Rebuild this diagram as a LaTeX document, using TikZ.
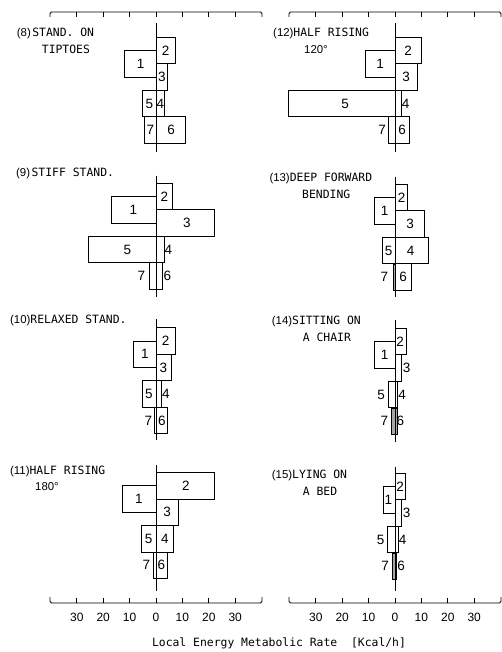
\documentclass[tikz,border=0pt]{standalone}
\usepackage{fontspec}
\newfontfamily\monofont{DejaVu Sans Mono}
\newfontfamily\numfont{Liberation Sans}
% bars: #1 b1 (left), #2 b2, #3 b3, #4 b4, #5 b5 (left), #6 b6, #7 b7 (left)
\newcommand{\mybars}[7]{%
  \draw[bar] (0,0) rectangle (#2,26.5);
  \draw[bar] (-#1,13.25) rectangle (0,39.75);
  \draw[bar] (0,26.5) rectangle (#3,53);
  \draw[bar] (-#5,53) rectangle (0,79.5);
  \draw[bar] (0,53) rectangle (#4,79.5);
  \draw[lowseven] (-#7,79.5) rectangle (0,106);
  \draw[lowsix] (0,79.5) rectangle (#6,106);
}
\newcommand{\topaxis}[1]{%
  \draw[axis] (#1-106,17) -- (#1-106,12) -- (#1+106,12) -- (#1+106,17);
  \foreach \k in {-3,...,3} \draw[axis] (#1+\k*26.4,12) -- (#1+\k*26.4,17);
}
\newcommand{\botaxis}[1]{%
  \draw[axis] (#1-106,597) -- (#1-106,603) -- (#1+106,603) -- (#1+106,597);
  \foreach \k in {-3,...,3} \draw[axis] (#1+\k*26.4,603) -- (#1+\k*26.4,597.5);
}
\begin{document}
\begin{tikzpicture}[x=1pt,y=-1pt,
  bar/.style={draw=black, line width=0.8pt},
  shd/.style={draw=black, fill=black!35, line width=0.6pt},
  lowseven/.style={bar},
  lowsix/.style={bar},
  zline/.style={draw=black, line width=0.8pt},
  axis/.style={draw=black, line width=0.9pt, rounded corners=1.5pt},
  num/.style={font=\numfont\fontsize{13.5}{13.5}\selectfont, inner sep=0pt},
  ttl/.style={font=\monofont\fontsize{11.4}{11.4}\selectfont, anchor=west, inner sep=0pt},
  tlab/.style={font=\numfont\fontsize{12}{12}\selectfont, inner sep=0pt}]
\useasboundingbox (0,0) rectangle (502,652);
\fill[white] (0,0) rectangle (502,652);

% axes
\topaxis{156}
\topaxis{395}
\botaxis{156}
\botaxis{395}

% ---------- panel 8 ----------
\begin{scope}[shift={(156.5,37.3)}]
  \mybars{31.7}{18.5}{11}{7.6}{14.2}{29.3}{12.4}
  \draw[zline] (0,-14.3) -- (0,115);
  \node[num] (p8a) at (-15.8,26.5) {1};
  \node[num] (p8b) at (9.2,13.25) {2};
  \node[num] (p8c) at (5.5,39.75) {3};
  \node[num] (p8d) at (3.8,66.25) {4};
  \node[num] (p8e) at (-7.1,66.25) {5};
  \node[num] (p8f) at (14.6,92.75) {6};
  \node[num] (p8g) at (-6.2,92.75) {7};
\end{scope}
\node[ttl] (t8a) at (16.7,33.3) {{\numfont(8)}\kern1.5pt STAND. ON};
\node[ttl] (t8b) at (41.7,49.3) {TIPTOES};

% ---------- panel 9 ----------
\begin{scope}[shift={(156,183.3)}]
  \mybars{45}{16.7}{58}{8.3}{67.7}{6.7}{6.7}
  \draw[zline] (0,-7.6) -- (0,113.4);
  \node[num] (p9a) at (-22.5,26.5) {1};
  \node[num] (p9b) at (8.5,13.25) {2};
  \node[num] (p9c) at (31,39.75) {3};
  \node[num] (p9d) at (12.5,66.25) {4};
  \node[num] (p9e) at (-28.5,66.25) {5};
  \node[num] (p9f) at (11.5,92.75) {6};
  \node[num] (p9g) at (-14.5,92.75) {7};
\end{scope}
\node[ttl] (t9a) at (16,173.3) {{\numfont(9)}\kern1.5pt STIFF STAND.};

% ---------- panel 10 ----------
\begin{scope}[shift={(156,327.7)}]
  \mybars{22.7}{19}{15}{5.7}{13.7}{11.7}{2}
  \draw[zline] (0,-8.4) -- (0,112.3);
  \node[num] (p10a) at (-11.2,26.5) {1};
  \node[num] (p10b) at (9.6,13.25) {2};
  \node[num] (p10c) at (7.4,39.75) {3};
  \node[num] (p10d) at (10,66.25) {4};
  \node[num] (p10e) at (-7,66.25) {5};
  \node[num] (p10f) at (5.8,92.75) {6};
  \node[num] (p10g) at (-7.7,92.75) {7};
\end{scope}
\node[ttl] (t10a) at (10,320) {{\numfont(10)}RELAXED STAND.};

% ---------- panel 11 ----------
\begin{scope}[shift={(156,472.5)}]
  \mybars{34}{58}{22.3}{17.5}{14.5}{11}{2.5}
  \draw[zline] (0,-7.5) -- (0,118);
  \node[num] (p11a) at (-17,26.5) {1};
  \node[num] (p11b) at (30,13.25) {2};
  \node[num] (p11c) at (11.2,39.75) {3};
  \node[num] (p11d) at (8.8,66.25) {4};
  \node[num] (p11e) at (-7.3,66.25) {5};
  \node[num] (p11f) at (5.5,92.75) {6};
  \node[num] (p11g) at (-9.5,92.75) {7};
\end{scope}
\node[ttl] (t11a) at (10,471.5) {{\numfont(11)}HALF RISING};
\node[ttl] (t11b) at (35,487) {{\numfont 180°}};

% ---------- panel 12 ----------
\begin{scope}[shift={(395,37.3)}]
  \mybars{29.7}{26}{22}{6.7}{107}{14.3}{6.7}
  \draw[zline] (0,-14.3) -- (0,115);
  \node[num] (p12a) at (-15,26.5) {1};
  \node[num] (p12b) at (13,13.25) {2};
  \node[num] (p12c) at (11,39.75) {3};
  \node[num] (p12d) at (10.5,66.25) {4};
  \node[num] (p12e) at (-50,66.25) {5};
  \node[num] (p12f) at (7,92.75) {6};
  \node[num] (p12g) at (-13,92.75) {7};
\end{scope}
\node[ttl] (t12a) at (273,33.3) {{\numfont(12)}HALF RISING};
\node[ttl] (t12b) at (304,50) {{\numfont 120°}};

% ---------- panel 13 ----------
\tikzset{lowseven/.style={shd}}
\begin{scope}[shift={(395,184.3)}]
  \mybars{20.7}{12.7}{29.3}{33.3}{12.3}{16}{1.7}
  \draw[zline] (0,-7.6) -- (0,112.4);
  \node[num] (p13a) at (-10.5,26.5) {1};
  \node[num] (p13b) at (6.5,13.25) {2};
  \node[num] (p13c) at (15,39.75) {3};
  \node[num] (p13d) at (15.5,66.25) {4};
  \node[num] (p13e) at (-6.5,66.25) {5};
  \node[num] (p13f) at (8,92.75) {6};
  \node[num] (p13g) at (-10.7,92.75) {7};
\end{scope}
\node[ttl] (t13a) at (269.3,178) {{\numfont(13)}DEEP FORWARD};
\node[ttl] (t13b) at (302,194) {BENDING};

% ---------- panel 14 ----------
\tikzset{lowsix/.style={shd}}
\begin{scope}[shift={(395,328.3)}]
  \mybars{20.7}{11}{6}{2.7}{6.7}{2.7}{3.3}
  \draw[zline] (0,-8.3) -- (0,113.4);
  \node[num] (p14a) at (-10.5,26.5) {1};
  \node[num] (p14b) at (5.2,13.25) {2};
  \node[num] (p14c) at (11.7,39.75) {3};
  \node[num] (p14d) at (7.2,66.25) {4};
  \node[num] (p14e) at (-14,66.25) {5};
  \node[num] (p14f) at (5.3,92.75) {6};
  \node[num] (p14g) at (-10.7,92.75) {7};
\end{scope}
\node[ttl] (t14a) at (271.7,321.5) {{\numfont(14)}SITTING ON};
\node[ttl] (t14b) at (302.7,337.5) {A CHAIR};

% ---------- panel 15 ----------
\begin{scope}[shift={(395,473.3)}]
  \mybars{12}{10}{6.7}{3.3}{7.7}{1.7}{2.7}
  \draw[zline] (0,-6.6) -- (0,118);
  \node[num] (p15a) at (-6.7,26.5) {1};
  \node[num] (p15b) at (5,13.25) {2};
  \node[num] (p15c) at (11.7,39.75) {3};
  \node[num] (p15d) at (7.7,66.25) {4};
  \node[num] (p15e) at (-14.3,66.25) {5};
  \node[num] (p15f) at (6,92.75) {6};
  \node[num] (p15g) at (-10,92.75) {7};
\end{scope}
\node[ttl] (t15a) at (271.7,475) {{\numfont(15)}LYING ON};
\node[ttl] (t15b) at (302.7,491) {A BED};

% tick labels
\foreach \x/\t [count=\i] in {-3/30,-2/20,-1/10,0/0,1/10,2/20,3/30} {
  \node[tlab] (la\i) at (156+\x*26.4,617) {\t};
  \node[tlab] (lb\i) at (395+\x*26.4,617) {\t};
}
\node[font=\monofont\fontsize{11.4}{11.4}\selectfont, inner sep=0pt] (xt) at (279,643.5) {Local Energy Metabolic Rate \ [Kcal/h]};
\end{tikzpicture}
\end{document}
